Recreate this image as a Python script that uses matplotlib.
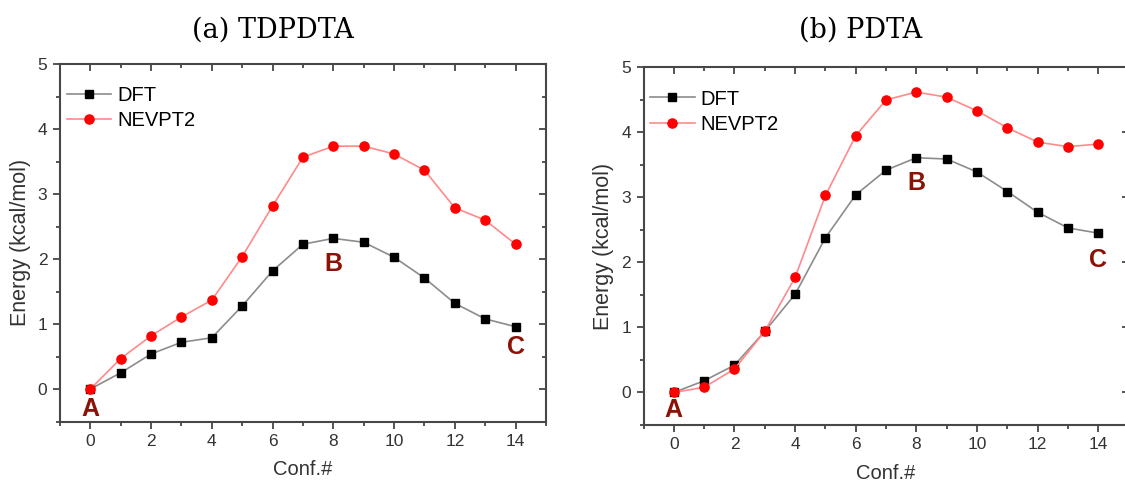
import numpy as np
import matplotlib
matplotlib.use("Agg")
import matplotlib.pyplot as plt
from matplotlib.ticker import MultipleLocator

plt.rcParams["font.family"] = ["Liberation Sans", "DejaVu Sans"]

conf = list(range(15))

# (a) TDPDTA
tdpdta_dft = [0.00, 0.25, 0.54, 0.72, 0.79, 1.28, 1.82, 2.23, 2.32, 2.26,
              2.03, 1.71, 1.32, 1.08, 0.96]
tdpdta_nevpt2 = [0.00, 0.47, 0.82, 1.11, 1.37, 2.04, 2.82, 3.57, 3.74, 3.74,
                 3.62, 3.37, 2.79, 2.60, 2.23]

# (b) PDTA
pdta_dft = [0.00, 0.18, 0.42, 0.94, 1.51, 2.38, 3.04, 3.42, 3.61, 3.59,
            3.39, 3.09, 2.77, 2.53, 2.45]
pdta_nevpt2 = [0.00, 0.08, 0.36, 0.94, 1.77, 3.03, 3.95, 4.50, 4.62, 4.54,
               4.33, 4.07, 3.85, 3.78, 3.82]

titles = ["(a) TDPDTA", "(b) PDTA"]
point_names = ["A", "B", "C"]
point_x = [0, 8, 14]
tdpdta_point_y = [-0.30, 1.92, 0.65]
pdta_point_y = [-0.27, 3.22, 2.04]

AX_COLOR = "#474747"
TXT_COLOR = "#333333"
LABEL_RED = "#8b1206"


def style_axes(ax):
    ax.set_xlim(-1, 15)
    ax.set_ylim(-0.5, 5)
    ax.xaxis.set_major_locator(MultipleLocator(2))
    ax.xaxis.set_minor_locator(MultipleLocator(1))
    ax.yaxis.set_major_locator(MultipleLocator(1))
    ax.yaxis.set_minor_locator(MultipleLocator(0.5))
    for sp in ax.spines.values():
        sp.set_color(AX_COLOR)
        sp.set_linewidth(1.5)
    ax.tick_params(which="both", direction="out", color=AX_COLOR, width=1.3,
                   labelcolor=TXT_COLOR, labelsize=12.5, top=False, right=False, pad=4)
    ax.tick_params(which="major", length=5)
    ax.tick_params(which="minor", length=2.8)

    # mirrored ticks on top/right, pointing into the frame
    top = ax.secondary_xaxis("top")
    top.xaxis.set_major_locator(MultipleLocator(2))
    top.xaxis.set_minor_locator(MultipleLocator(1))
    right = ax.secondary_yaxis("right")
    right.yaxis.set_major_locator(MultipleLocator(1))
    right.yaxis.set_minor_locator(MultipleLocator(0.5))
    for sec in (top, right):
        for sp in sec.spines.values():
            sp.set_visible(False)
        sec.tick_params(which="both", direction="in", color=AX_COLOR, width=1.3,
                        labeltop=False, labelright=False)
        sec.tick_params(which="major", length=5)
        sec.tick_params(which="minor", length=2.8)

    ax.set_xlabel("Conf.#", fontsize=14.5, color=TXT_COLOR)
    ax.set_ylabel("Energy (kcal/mol)", fontsize=15.5, color=TXT_COLOR)
    ax.xaxis.set_label_coords(0.5, -0.135)
    ax.xaxis.label.set_verticalalignment("center")
    ax.yaxis.set_label_coords(-0.082, 0.5)
    ax.yaxis.label.set_verticalalignment("center")


def draw_panel(ax, dft, nevpt2, labels_y, legend_top):
    ax.plot(conf, dft, color="#8c8c8c", linewidth=1.2, marker="s", markersize=6,
            markerfacecolor="black", markeredgecolor="black", label="DFT", zorder=3)
    ax.plot(conf, nevpt2, color="#ff8a8a", linewidth=1.2, marker="o", markersize=6.6,
            markerfacecolor="#ff0000", markeredgecolor="#ff0000", label="NEVPT2", zorder=3)
    for name, x, y in zip(point_names, point_x, labels_y):
        ax.text(x, y, name, color=LABEL_RED, fontsize=18, fontweight="bold",
                ha="center", va="center")
    style_axes(ax)
    ax.legend(loc="upper left", bbox_to_anchor=(0.014, legend_top), frameon=False,
              fontsize=14.5, handlelength=2.2, handletextpad=0.3, labelspacing=0.3,
              borderpad=0, borderaxespad=0)


fig = plt.figure(figsize=(11.25, 4.82), dpi=100)
ax1 = fig.add_axes([0.0533, 0.1255, 0.432, 0.741])
ax2 = fig.add_axes([0.572, 0.1183, 0.4313, 0.742])

draw_panel(ax1, tdpdta_dft, tdpdta_nevpt2, tdpdta_point_y, 0.94)
draw_panel(ax2, pdta_dft, pdta_nevpt2, pdta_point_y, 0.938)

fig.text(273 / 1125, 1 - 30 / 482, titles[0], fontsize=19.5, family="DejaVu Serif",
         ha="center", va="center")
fig.text(861 / 1125, 1 - 30 / 482, titles[1], fontsize=19.5, family="DejaVu Serif",
         ha="center", va="center")

fig.savefig("out.png", dpi=100)
